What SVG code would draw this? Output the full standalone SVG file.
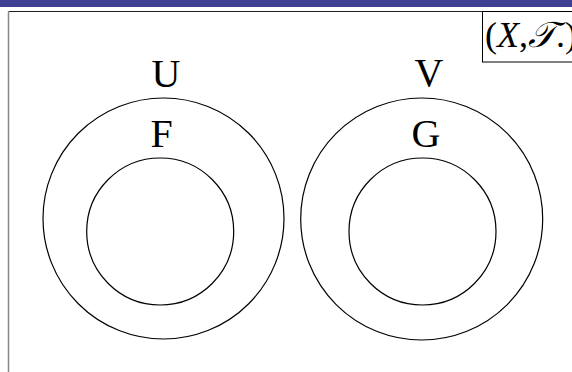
<svg xmlns="http://www.w3.org/2000/svg" width="572" height="372" viewBox="0 0 572 372">
<style>
.c{fill:none;stroke:#000;stroke-width:1.2}
.t{font-family:"Liberation Serif","DejaVu Serif",serif;font-size:40px;fill:#000;text-anchor:middle}
</style>
<rect x="0" y="0" width="572" height="372" fill="#fff"/>
<rect x="0" y="0" width="572" height="7" fill="#3f3f94"/>
<g id="frame">
<path d="M8.5 11.5 H572" fill="none" stroke="#222" stroke-width="1.2"/>
<path d="M8.5 372 V11.5" fill="none" stroke="#888" stroke-width="1.5"/>
</g>
<g id="label">
<rect x="482.5" y="11.5" width="100" height="50.5" fill="#fff" stroke="#000" stroke-width="1"/>
<text x="485" y="47" font-family="Liberation Serif, DejaVu Serif, serif" font-size="36">(<tspan font-style="italic">X</tspan>,<tspan font-family="DejaVu Serif, DejaVu Sans, serif" font-style="italic">𝒯</tspan>.)</text>
</g>
<g id="U">
<circle class="c" cx="163.5" cy="218.5" r="120.5"/>
<text class="t" x="166" y="87">U</text>
</g>
<g id="F">
<circle class="c" cx="160.2" cy="231.5" r="73.5"/>
<text class="t" x="161.5" y="147">F</text>
</g>
<g id="V">
<circle class="c" cx="421.7" cy="219" r="121"/>
<text class="t" x="429" y="86">V</text>
</g>
<g id="G">
<circle class="c" cx="422.5" cy="231.5" r="73.5"/>
<text class="t" x="426" y="147">G</text>
</g>
<g id="connectors"></g>
</svg>
